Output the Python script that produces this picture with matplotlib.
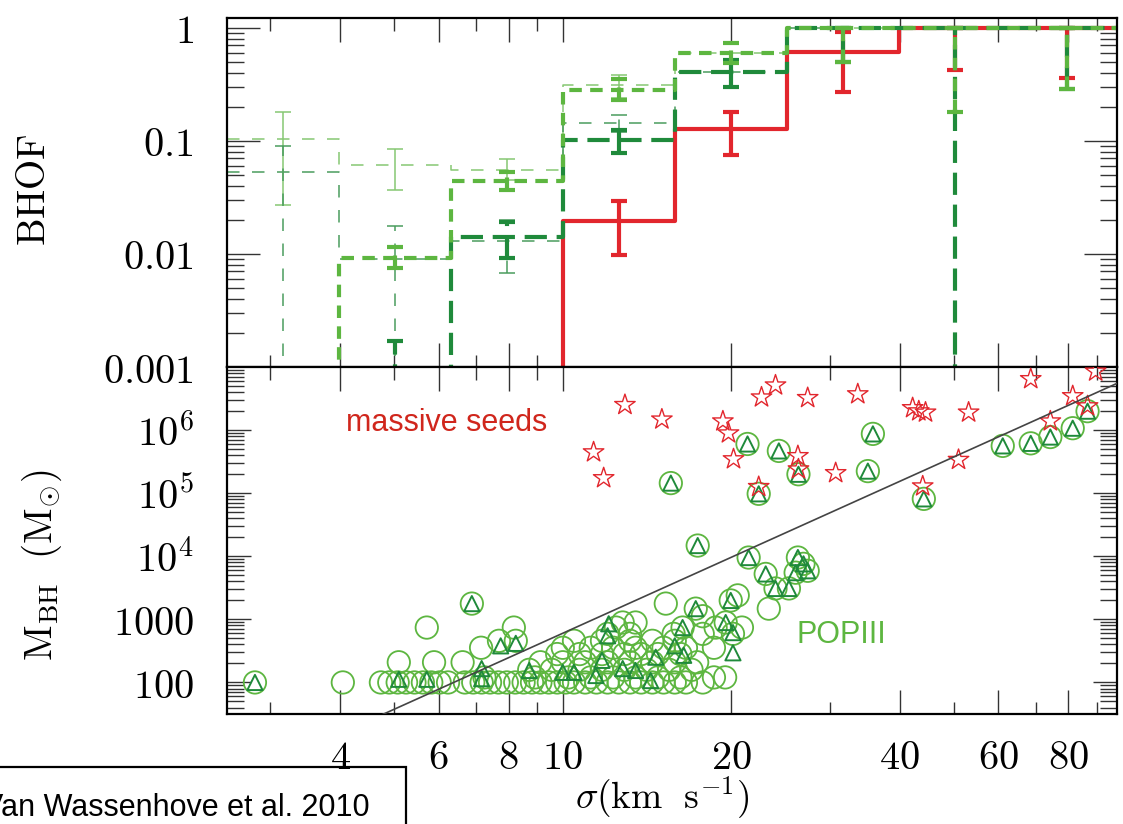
import numpy as np
import matplotlib
matplotlib.use("Agg")
import matplotlib.pyplot as plt
from matplotlib import font_manager
from matplotlib.patches import Rectangle
from matplotlib.ticker import FixedLocator, FixedFormatter, NullFormatter, LogLocator

plt.rcParams["mathtext.fontset"] = "cm"
plt.rcParams["lines.scale_dashes"] = False

# ---- top panel: BH occupation fraction per sigma bin (log10 sigma bins) ----
bin_edges_log = [0.4, 0.6, 0.8, 1.0, 1.2, 1.4, 1.6, 1.8, 2.0]
bin_centres_log = [0.5, 0.7, 0.9, 1.1, 1.3, 1.5, 1.7, 1.9]

red_frac = [0, 0, 0, 0.0195, 0.128, 0.61, 1.0, 1.0]
red_lo = [np.nan, np.nan, np.nan, 0.0098, 0.075, 0.27, 0.42, 0.36]
red_hi = [np.nan, np.nan, np.nan, 0.0294, 0.18, 0.92, 1.0, 1.0]

dkg_frac = [0, 0, 0.014, 0.102, 0.41, 1.0, 1.0, 1.0]
dkg_lo = [np.nan, 0, 0.0092, 0.078, 0.30, 0.50, 0, 0.29]
dkg_hi = [np.nan, 0.0017, 0.019, 0.125, 0.52, 1.0, 1.0, 1.0]

ltg_frac = [0, 0.0092, 0.044, 0.28, 0.60, 1.0, 1.0, 1.0]
ltg_lo = [np.nan, 0.0075, 0.037, 0.23, 0.49, 0.50, 0.18, 0.29]
ltg_hi = [np.nan, 0.0116, 0.053, 0.35, 0.73, 1.0, 1.0, 1.0]

thin_lt_frac = [0.104, 0.061, 0.055, 0.31, 0.60, 1.0, 1.0, 1.0]
thin_lt_lo = [0.027, 0.037, 0.045, 0.24, np.nan, np.nan, np.nan, np.nan]
thin_lt_hi = [0.18, 0.085, 0.069, 0.38, np.nan, np.nan, np.nan, np.nan]

thin_dk_frac = [0.053, 0.009, 0.013, 0.144, 0.41, 1.0, 1.0, 1.0]
thin_dk_lo = [0, 0, 0.0068, 0.12, np.nan, np.nan, np.nan, np.nan]
thin_dk_hi = [0.09, 0.0177, 0.02, 0.17, np.nan, np.nan, np.nan, np.nan]

# ---- bottom panel: BH mass vs sigma (log10 values) ----
star_logsig = [1.055, 1.073, 1.111, 1.177, 1.286, 1.296, 1.305, 1.350, 1.355, 1.380,
               1.4375, 1.420, 1.421, 1.4875, 1.527, 1.625, 1.636, 1.648, 1.643, 1.707,
               1.725, 1.836, 1.871, 1.911, 1.9375, 1.952]
star_logm = [5.65, 5.24, 6.40, 6.17, 6.14, 5.95, 5.54, 5.10, 6.52, 6.71,
             6.51, 5.59, 5.38, 5.32, 6.57, 6.35, 6.30, 6.28, 5.11, 5.53,
             6.28, 6.81, 6.14, 6.54, 6.38, 6.93]

row_100 = [0.45, 0.607, 0.675, 0.69, 0.705, 0.72, 0.735, 0.75, 0.765, 0.78, 0.795,
           0.825, 0.84, 0.855, 0.87, 0.885, 0.90, 0.915, 0.93, 0.945, 0.96, 0.975,
           0.99, 1.005, 1.02, 1.04, 1.06, 1.08, 1.10, 1.12, 1.14, 1.16, 1.18, 1.20,
           1.22, 1.25]
circ_logsig = row_100 + [
    0.86, 0.95, 1.01, 1.05, 1.09, 1.13, 1.17, 1.21, 1.27, 1.29,
    0.94, 0.98, 1.03, 1.07, 1.11, 1.15, 1.19, 1.23,
    0.707, 0.77, 0.821, 0.96, 1.00, 1.04, 1.08, 1.12, 1.16, 1.20, 1.24,
    0.99, 1.03, 1.07, 1.11, 1.14, 1.17, 1.21,
    0.854, 1.00, 1.05, 1.09, 1.13, 1.18, 1.22, 1.27,
    0.886, 0.916, 1.02, 1.07, 1.12, 1.16, 1.20,
    1.08, 1.12, 1.198, 1.25, 1.304,
    0.757, 0.9125, 1.095, 1.214, 1.273, 1.32,
    1.107, 1.13, 1.291, 1.25, 1.2375, 1.368, 0.8375, 1.184, 1.30, 1.3125,
    1.38, 1.404, 1.3625, 1.416, 1.4375, 1.43, 1.332, 1.42, 1.241,
    1.645, 1.35, 1.193, 1.421, 1.545, 1.386, 1.786, 1.33, 1.836, 1.871,
    1.554, 1.911, 1.9375]
circ_logm = [2.0] * len(row_100) + [
    2.08, 2.08, 2.08, 2.08, 2.08, 2.08, 2.08, 2.08, 2.08, 2.08,
    2.2, 2.2, 2.2, 2.2, 2.2, 2.2, 2.2, 2.2,
    2.32, 2.32, 2.32, 2.32, 2.32, 2.32, 2.32, 2.32, 2.32, 2.32, 2.32,
    2.45, 2.45, 2.45, 2.45, 2.45, 2.45, 2.45,
    2.55, 2.55, 2.55, 2.55, 2.55, 2.55, 2.55, 2.55,
    2.66, 2.66, 2.66, 2.66, 2.66, 2.66, 2.66,
    2.77, 2.77, 2.77, 2.77, 2.77,
    2.87, 2.87, 2.87, 2.87, 2.87, 2.87,
    2.95, 2.95, 2.95, 3.05, 3.17, 3.17, 3.25, 3.25, 3.30, 3.38,
    3.49, 3.49, 3.72, 3.74, 3.77, 3.88, 3.98, 3.98, 4.17,
    4.91, 4.99, 5.16, 5.30, 5.35, 5.67, 5.75, 5.78, 5.79, 5.89,
    5.94, 6.03, 6.30]

tri_logsig = [0.45, 0.707, 0.757, 0.855, 0.8375, 0.889, 0.916, 0.855, 0.94, 1.0,
              1.02, 1.07, 1.107, 1.082, 1.08, 1.13, 1.157, 1.059, 1.20, 1.166,
              1.216, 1.214, 1.2375, 1.291, 1.304, 1.304, 1.30, 1.241, 1.332, 1.42,
              1.43, 1.4375, 1.416, 1.3625, 1.38, 1.404, 1.35, 1.193, 1.421, 1.545,
              1.386, 1.33, 1.554, 1.645, 1.786, 1.836, 1.871, 1.911, 1.9375]
tri_logm = [2.0, 2.05, 2.05, 2.06, 3.25, 2.58, 2.62, 2.22, 2.19, 2.16,
            2.16, 2.35, 2.22, 2.93, 2.74, 2.19, 2.03, 2.11, 2.58, 2.40,
            2.43, 2.87, 3.17, 2.95, 2.79, 2.47, 3.30, 4.17, 3.98, 3.98,
            3.88, 3.77, 3.74, 3.72, 3.49, 3.49, 4.99, 5.16, 5.30, 5.35,
            5.67, 5.78, 5.94, 4.91, 5.75, 5.79, 5.89, 6.03, 6.30]

# M-sigma relation drawn in the lower panel: log M = norm + slope * log sigma
msig_norm = -1.22
msig_slope = 4.0

x_major = [4, 6, 8, 10, 20, 40, 60, 80]
x_minor = [3, 5, 7, 9, 30, 50, 70, 90]
top_yticks = [0.001, 0.01, 0.1, 1]
top_ylabels = ["$0.001$", "$0.01$", "$0.1$", "$1$"]
bot_yticks = [1e2, 1e3, 1e4, 1e5, 1e6]
bot_ylabels = ["$100$", "$1000$", "$10^4$", "$10^5$", "$10^6$"]

RED = "#e2262d"
DKG = "#1f8a3b"
LTG = "#5db640"
THIN_LT = "#86c873"
THIN_DK = "#4a9c5e"
TINY = 1e-6

edges = 10 ** np.array(bin_edges_log)
centres = 10 ** np.array(bin_centres_log)
xlim = (10 ** 0.4, 10 ** 1.99)


def style(ax, ylen):
    ax.set_xscale("log"); ax.set_yscale("log")
    ax.set_xlim(*xlim)
    ax.xaxis.set_major_locator(FixedLocator(x_major))
    ax.xaxis.set_minor_locator(FixedLocator(x_minor))
    ax.xaxis.set_minor_formatter(NullFormatter())
    ax.yaxis.set_minor_locator(LogLocator(base=10, subs=np.arange(2, 10), numticks=30))
    ax.yaxis.set_minor_formatter(NullFormatter())
    ax.tick_params(which="both", direction="in", top=True, right=True,
                   color="#333333", width=1.0, labelsize=29)
    ax.tick_params(axis="x", which="major", length=17, pad=17)
    ax.tick_params(axis="x", which="minor", length=9)
    ax.tick_params(axis="y", which="major", length=ylen, pad=24)
    ax.tick_params(axis="y", which="minor", length=12)
    for s in ax.spines.values():
        s.set_linewidth(1.6)


def steps(ax, frac, **kw):
    v = np.where(np.array(frac) > 0, frac, TINY)
    ax.step(edges, np.append(v, v[-1]), where="post", **kw)


def errbars(ax, frac, lo, hi, color, lw, ls=None):
    frac, lo, hi = map(np.array, (frac, lo, hi))
    ok = ~np.isnan(lo)
    v = np.where(frac > 0, frac, TINY)[ok]
    l = np.where(lo[ok] > 0, lo[ok], TINY)
    eb = ax.errorbar(centres[ok], v, yerr=[v - l, hi[ok] - v], fmt="none",
                     ecolor=color, elinewidth=lw, capsize=6, capthick=lw)
    if ls is not None:
        eb.lines[2][0].set_linestyle(ls)


fig = plt.figure(figsize=(11.23, 8.24), dpi=100)
ax1 = fig.add_axes([0.2021, 0.5546, 0.7925, 0.4235])
ax2 = fig.add_axes([0.2021, 0.1335, 0.7925, 0.4211])

# top panel
style(ax1, 24)
ax1.set_ylim(0.001, 1.22)
ax1.yaxis.set_major_locator(FixedLocator(top_yticks))
ax1.yaxis.set_major_formatter(FixedFormatter(top_ylabels))
ax1.tick_params(axis="x", labelbottom=False)

thin_ls = (0, (9, 9))
steps(ax1, thin_lt_frac, color=THIN_LT, lw=1.1, ls=thin_ls)
steps(ax1, thin_dk_frac, color=THIN_DK, lw=1.1, ls=thin_ls)
errbars(ax1, thin_lt_frac, thin_lt_lo, thin_lt_hi, THIN_LT, 1.1)
errbars(ax1, thin_dk_frac, thin_dk_lo, thin_dk_hi, THIN_DK, 1.1, ls=thin_ls)

steps(ax1, red_frac, color=RED, lw=3)
errbars(ax1, red_frac, red_lo, red_hi, RED, 3)
dk_ls = (0, (16, 7))
steps(ax1, dkg_frac, color=DKG, lw=3, ls=dk_ls)
errbars(ax1, dkg_frac, dkg_lo, dkg_hi, DKG, 3, ls=dk_ls)
lt_ls = (0, (9, 6))
steps(ax1, ltg_frac, color=LTG, lw=3, ls=lt_ls)
errbars(ax1, ltg_frac, ltg_lo, ltg_hi, LTG, 3, ls=lt_ls)

# bottom panel
style(ax2, 17)
ax2.set_ylim(10 ** 1.5, 10 ** 7.0)
ax2.yaxis.set_major_locator(FixedLocator(bot_yticks))
ax2.yaxis.set_major_formatter(FixedFormatter(bot_ylabels))
ax2.xaxis.set_major_formatter(FixedFormatter(["$%d$" % t for t in x_major]))

ax2.scatter(10 ** np.array(circ_logsig), 10 ** np.array(circ_logm), s=260,
            facecolors="none", edgecolors=LTG, linewidths=1.3, zorder=3)
ax2.scatter(10 ** np.array(tri_logsig), 10 ** np.array(tri_logm), s=120, marker="^",
            facecolors="none", edgecolors=DKG, linewidths=1.4, zorder=4)
ax2.scatter(10 ** np.array(star_logsig), 10 ** np.array(star_logm), s=240, marker="*",
            facecolors="none", edgecolors=RED, linewidths=1.0, zorder=5)

sig_line = np.array(xlim)
ax2.plot(sig_line, 10 ** (msig_norm + msig_slope * np.log10(sig_line)),
         color="#444444", lw=1.2, zorder=6)

ax2.text(0.247, 0.839, "massive seeds", transform=ax2.transAxes, ha="center", va="center",
         fontsize=22, family="Liberation Sans", color="#d0261c")
ax2.text(0.69, 0.228, "POPIII", transform=ax2.transAxes, ha="center", va="center",
         fontsize=22, family="Liberation Sans", color=LTG)

# axis labels
fig.text(34 / 1123, 1 - 190 / 824, r"$\mathrm{BHOF}$", rotation=90,
         ha="center", va="center", fontsize=28)
fig.text(42 / 1123, 1 - 565 / 824, r"$\mathrm{M_{BH}}\ \ (\mathrm{M_{\odot}})$", rotation=90,
         ha="center", va="center", fontsize=28)
fig.text(662 / 1123, 1 - 798 / 824, r"$\sigma(\mathrm{km\ \ s^{-1}})$",
         ha="center", va="center", fontsize=27)

# citation box, clipped at the left figure edge as in the original
try:
    font_manager.findfont("Liberation Sans Narrow", fallback_to_default=False)
    cite_font, cite_size = "Liberation Sans Narrow", 26
except Exception:
    cite_font, cite_size = "Liberation Sans", 22
fig.text(-17 / 1123, 1 - 816 / 824, "Van Wassenhove et al. 2010", ha="left", va="baseline",
         fontsize=cite_size, family=cite_font)
fig.patches.append(Rectangle((-0.02, -0.05), 406 / 1123 + 0.02, 0.05 + 1 - 767 / 824,
                             transform=fig.transFigure, fill=False, lw=1.6,
                             edgecolor="black", clip_on=False))

fig.savefig("out.png", dpi=100)
